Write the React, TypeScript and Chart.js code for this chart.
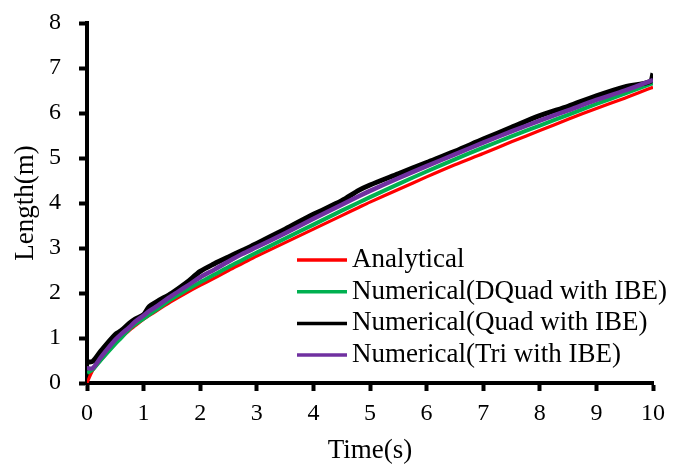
import React, { useEffect, useRef } from "react";
import { Chart, registerables } from "chart.js";

Chart.register(...registerables);

const times = [0, 0.1, 0.25, 0.5, 0.6, 0.75, 0.85, 1, 1.1, 1.25, 1.5, 1.75, 2, 2.25, 2.5, 2.75, 3, 3.5, 4, 4.5, 4.8, 5, 5.5, 6, 6.5, 7, 7.5, 8, 8.5, 9, 9.5, 9.95, 10];

const analytical = [0, 0.28, 0.52, 0.88, 1.0, 1.17, 1.27, 1.42, 1.5, 1.62, 1.82, 2.0, 2.17, 2.33, 2.5, 2.66, 2.82, 3.12, 3.42, 3.72, 3.9, 4.02, 4.3, 4.58, 4.85, 5.1, 5.36, 5.61, 5.86, 6.1, 6.33, 6.55, 6.57];

const dquad = [0.22, 0.3, 0.52, 0.87, 1.0, 1.2, 1.3, 1.43, 1.52, 1.65, 1.87, 2.06, 2.24, 2.41, 2.58, 2.74, 2.9, 3.21, 3.52, 3.83, 4.01, 4.13, 4.42, 4.7, 4.97, 5.23, 5.48, 5.72, 5.96, 6.2, 6.43, 6.64, 6.66];

const quad = [0.47, 0.48, 0.72, 1.08, 1.16, 1.33, 1.42, 1.52, 1.7, 1.82, 2.0, 2.22, 2.48, 2.65, 2.8, 2.95, 3.1, 3.42, 3.75, 4.05, 4.28, 4.4, 4.65, 4.9, 5.15, 5.42, 5.68, 5.94, 6.15, 6.38, 6.58, 6.7, 6.88];

const tri = [0.33, 0.33, 0.58, 0.96, 1.08, 1.24, 1.36, 1.5, 1.6, 1.72, 1.94, 2.14, 2.35, 2.52, 2.7, 2.87, 3.02, 3.33, 3.65, 3.96, 4.15, 4.27, 4.55, 4.82, 5.08, 5.34, 5.59, 5.83, 6.06, 6.29, 6.5, 6.71, 6.73];

const seriesLabels = ["Analytical", "Numerical(DQuad with IBE)", "Numerical(Quad with IBE)", "Numerical(Tri with IBE)"];
const seriesColors = ["#ff0000", "#00b050", "#000000", "#7030a0"];

const FONT = "'Liberation Serif', 'Times New Roman', serif";

const insideLegend = {
  id: "insideLegend",
  afterDatasetsDraw(chart: any) {
    const { ctx, chartArea } = chart;
    const x0 = chartArea.left + 210;
    const y0 = chartArea.bottom - 123;
    const rowH = 31.7;
    ctx.save();
    ctx.font = `27px ${FONT}`;
    ctx.textAlign = "left";
    ctx.textBaseline = "alphabetic";
    chart.data.datasets.forEach((ds: any, i: number) => {
      const y = y0 + i * rowH;
      ctx.strokeStyle = ds.borderColor;
      ctx.lineWidth = 3.5;
      ctx.beginPath();
      ctx.moveTo(x0, y);
      ctx.lineTo(x0 + 50, y);
      ctx.stroke();
      ctx.fillStyle = "#000";
      ctx.fillText(ds.label, x0 + 55, y + 7);
    });
    ctx.restore();
  },
};

export default function App() {
  const ref = useRef<HTMLCanvasElement | null>(null);
  useEffect(() => {
    if (!ref.current) return;
    const widths = [3.2, 4, 5, 4.5];
    const orders = [4, 3, 2, 1];
    const series = [analytical, dquad, quad, tri];
    const chart = new Chart(ref.current, {
      type: "line",
      data: {
        datasets: series.map((vals, i) => ({
          label: seriesLabels[i],
          data: times.map((t, j) => ({ x: t, y: vals[j] })),
          borderColor: seriesColors[i],
          backgroundColor: seriesColors[i],
          borderWidth: widths[i],
          pointRadius: 0,
          tension: 0.3,
          order: orders[i],
          fill: false,
        })),
      },
      options: {
        animation: false,
        responsive: false,
        maintainAspectRatio: false,
        layout: { padding: { top: 0, right: 23, left: 10, bottom: 0 } },
        plugins: {
          legend: { display: false },
          tooltip: { enabled: false },
        },
        scales: {
          x: {
            type: "linear",
            min: 0,
            max: 10,
            afterFit: (scale: any) => { scale.height = 85; },
            ticks: { stepSize: 1, color: "#000", font: { family: FONT, size: 24 }, padding: 8, maxRotation: 0 },
            grid: { display: true, drawOnChartArea: false, drawTicks: true, tickLength: 8, tickWidth: 4, tickColor: "#000" },
            border: { display: true, width: 4, color: "#000" },
            title: { display: true, text: "Time(s)", color: "#000", font: { family: FONT, size: 27 }, padding: { top: 0, bottom: 1 } },
          },
          y: {
            type: "linear",
            min: 0,
            max: 8,
            afterFit: (scale: any) => { scale.width = 77; scale.paddingTop = 23; scale.paddingBottom = 0; },
            ticks: { stepSize: 1, color: "#000", font: { family: FONT, size: 24 }, padding: 18 },
            grid: { display: true, drawOnChartArea: false, drawTicks: true, tickLength: 8, tickWidth: 4, tickColor: "#000" },
            border: { display: true, width: 4, color: "#000" },
            title: { display: true, text: "Length(m)", color: "#000", font: { family: FONT, size: 27 }, padding: { top: 0, bottom: 0 } },
          },
        },
      },
      plugins: [insideLegend],
    });
    return () => chart.destroy();
  }, []);
  return (
    <div style={{ position: "fixed", left: 0, top: 0, width: 676, height: 468, background: "#fff" }}>
      <canvas ref={ref} width={676} height={468} />
    </div>
  );
}
